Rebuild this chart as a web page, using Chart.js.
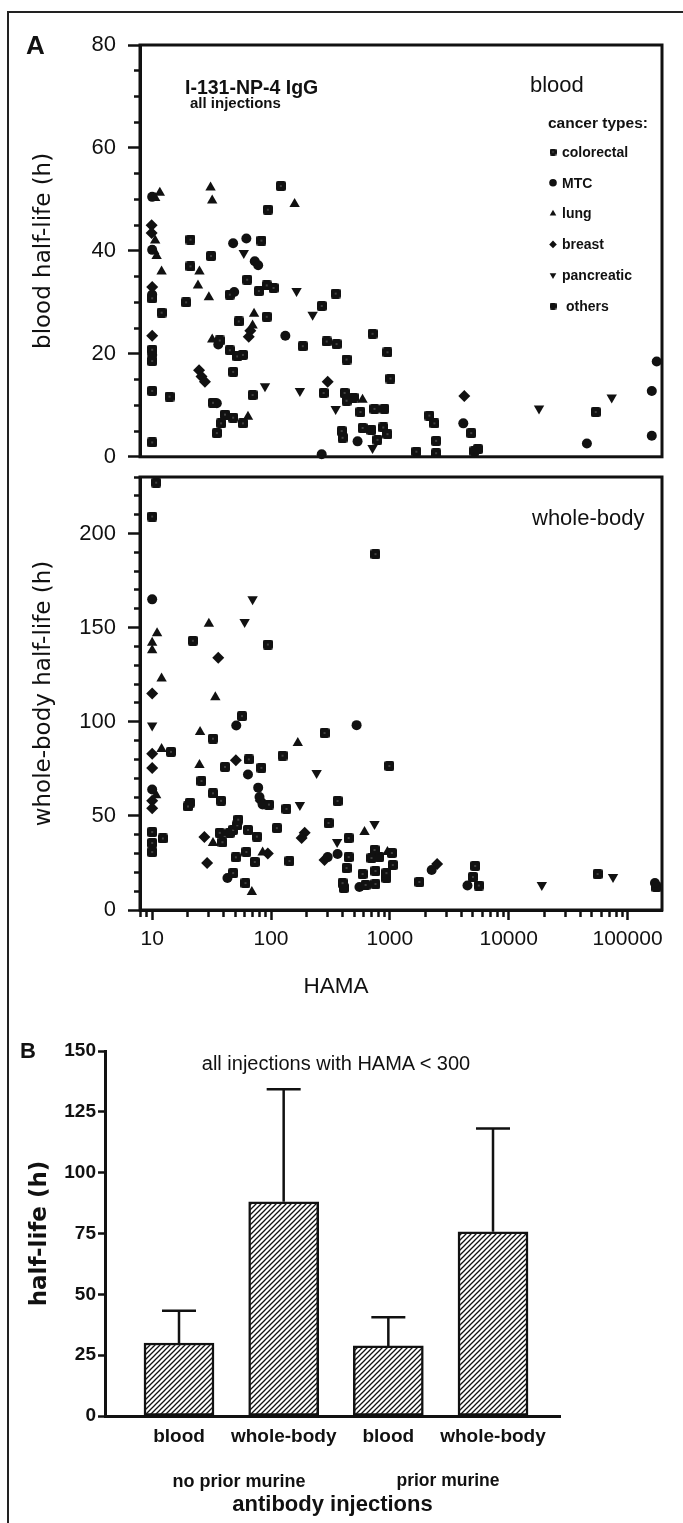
<!DOCTYPE html>
<html lang="en">
<head>
<meta charset="UTF-8">
<title>I-131-NP-4 IgG half-life vs HAMA</title>
<style>
  body { margin: 0; background: #fff; }
  #page { position: relative; width: 683px; height: 1523px; overflow: hidden;
          font-family: "Liberation Sans", Arial, sans-serif; color: #111; }
  .frame { position: absolute; left: 7px; top: 11px; width: 720px; height: 1600px; border: 2px solid #222; }
  canvas { position: absolute; left: 0; }
  .lbl { position: absolute; white-space: nowrap; line-height: 1; }
  .b { font-weight: bold; }
</style>
</head>
<body>
<div id="page">
  <div class="frame"></div>
  <canvas id="cBlood" width="683" height="482" style="top:0"></canvas>
  <canvas id="cWhole" width="683" height="570" style="top:440px"></canvas>
  <canvas id="cBars" width="683" height="523" style="top:1000px"></canvas>

  <div class="lbl b" style="left:26px;top:32px;font-size:26px">A</div>
  <div class="lbl b" style="left:185px;top:78px;font-size:19.5px">I-131-NP-4 IgG</div>
  <div class="lbl b" style="left:190px;top:95px;font-size:15px">all injections</div>
  <div class="lbl" style="left:530px;top:74px;font-size:22px">blood</div>
  <div class="lbl" style="left:532px;top:507px;font-size:22px">whole-body</div>
  <div class="lbl" style="left:236px;width:200px;text-align:center;top:975px;font-size:22.5px">HAMA</div>

  <div class="lbl b" style="left:20px;top:1040px;font-size:22px">B</div>
  <div class="lbl" style="left:186px;width:300px;text-align:center;top:1053px;font-size:20px">all injections with HAMA &lt; 300</div>
  <div class="lbl b" style="left:139px;width:200px;text-align:center;top:1472px;font-size:18px">no prior murine</div>
  <div class="lbl b" style="left:348px;width:200px;text-align:center;top:1472px;font-size:17.5px">prior murine</div>
</div>

<script src="https://cdn.jsdelivr.net/npm/chart.js"></script>
<script>
// ---- data: [HAMA, half-life (h)] ----
const CANCER_TYPES = ['colorectal', 'MTC', 'lung', 'breast', 'pancreatic', 'others'];

const BLOOD_COLORECTAL = [
  [121, 52.6], [94, 48], [10, 30.8], [12, 28], [10, 20.8], [10, 18.6], [10, 12.8], [14, 11.7], [10, 2.8],
  [21, 42.2], [21, 37], [19.3, 30], [31.3, 39], [37, 22.6], [32.5, 10.5], [41, 8.2], [48, 7.6], [38, 6.5],
  [35, 4.6], [83, 42], [63, 34.4], [45, 31.5], [79, 32.2], [92, 33.3], [105, 32.8], [267, 29.3], [350, 31.7],
  [53.5, 26.3], [92, 27.2], [185, 21.5], [294, 22.4], [356, 21.9], [45, 20.7], [52, 19.5], [58, 19.8],
  [48, 16.5], [70, 12], [277, 12.4], [58, 6.5], [715, 23.9], [955, 20.3], [432, 18.9], [1012, 15.2],
  [416, 12.4], [432, 10.9], [566, 8.7], [742, 9.3], [393, 5.0], [400, 3.7], [590, 5.6], [880, 5.7],
  [955, 4.4], [787, 3.3], [1670, 1.0], [2450, 0.7], [2150, 8.0], [2370, 6.5], [2450, 3.1], [4840, 4.6],
  [54000, 8.7]
];
const BLOOD_MTC = [
  [10, 50.5], [10, 40.2], [10, 31.5], [10, 19.8], [36, 21.8], [35, 10.4], [48, 41.5], [62, 42.4], [73, 38],
  [78, 37.2], [49, 32], [132, 23.5], [267, 0.5], [535, 3.0], [4150, 6.5], [45500, 2.6], [160000, 12.8],
  [176000, 18.5], [160000, 4.1]
];
const BLOOD_LUNG = [
  [10.6, 50.3], [11.6, 51.3], [31, 52.3], [32, 49.8], [158, 49.1], [10.6, 42], [10.4, 40], [10.9, 39],
  [12, 36], [25, 36], [24.3, 33.3], [30, 31], [32, 22.8], [72, 27.8], [70, 25.5], [64, 7.8], [589, 11.1]
];
const BLOOD_BREAST = [
  [9.9, 45], [9.9, 43.5], [10, 33], [10, 23.5], [24.8, 16.8], [26, 15.6], [27.8, 14.6], [67, 24.5],
  [65, 23.3], [300, 14.6], [4230, 11.8]
];
const BLOOD_PANCREATIC = [
  [59, 39.6], [164, 32.2], [224, 27.6], [89, 13.7], [175, 12.8], [350, 9.3], [715, 1.7], [18000, 9.4],
  [73600, 11.5]
];
const BLOOD_OTHERS = [[495, 11.5], [900, 9.3], [700, 5.2], [5150, 1.1], [5500, 1.5]];

const WHOLE_COLORECTAL = [
  [10.8, 227], [10, 209], [22, 143], [94, 141], [14.4, 84], [10, 41.4], [10, 35.6], [12.3, 38], [10, 30.8],
  [32.5, 91], [57, 103], [65, 80], [41, 76], [83, 75.5], [125, 82], [282, 94], [26, 68.5], [32.5, 62],
  [38, 58], [20.8, 57], [20, 55], [96, 56], [135, 53.7], [363, 57.9], [39, 36], [37, 41], [45, 41],
  [48, 42.5], [52, 45], [53, 48], [64, 42.5], [76, 39], [112, 43.5], [305, 46.2], [50.6, 28], [62, 30.8],
  [73, 25.5], [143, 26], [48, 19.6], [61, 14.3], [757, 189], [990, 76.5], [450, 38.2], [450, 28.1],
  [432, 22.3], [743, 31.9], [700, 27.6], [1040, 30.3], [1058, 23.9], [757, 20.7], [935, 19.6], [590, 19.1],
  [400, 14.3], [625, 13.3], [757, 13.8], [1770, 14.9], [5220, 23.4], [5000, 17.5], [5600, 13], [56000, 19.1]
];
const WHOLE_MTC = [
  [10, 165], [10, 64], [51, 98], [64, 72], [78, 65], [80, 60], [85, 56], [300, 28.1], [363, 29.7],
  [43, 17], [525, 98.2], [555, 12.2], [2250, 21.2], [4500, 13], [170000, 14.3]
];
const WHOLE_LUNG = [
  [11, 147], [10, 142], [10, 138], [12, 123], [30, 152], [34, 113], [12, 85.5], [10.8, 61], [25.3, 94.5],
  [25, 77], [168, 88.7], [32.5, 35.6], [85, 30.5], [69, 9.6], [612, 41.4], [955, 30.8]
];
const WHOLE_BREAST = [
  [10, 115], [36, 134], [10, 83], [10, 75.4], [10, 58], [10, 54], [50.6, 79.6], [82, 58], [27.5, 38.8],
  [192, 41], [181, 38.2], [29, 25], [94, 30], [282, 26.5], [2500, 24.4]
];
const WHOLE_PANCREATIC = [
  [60, 153], [70, 165], [10, 98], [242, 72.8], [175, 55.8], [360, 36.1], [743, 45.7], [19000, 13.3],
  [75500, 17.5]
];
const WHOLE_OTHERS = [[815, 28.1], [935, 17], [410, 11.7], [175000, 12.2]];

const HAMA_DECADES = [10, 100, 1000, 10000, 100000];

// panel B: mean and SD of half-life, injections with HAMA < 300
const BAR_LABELS = ['blood', 'whole-body', 'blood', 'whole-body'];
const BAR_MEANS = [30, 88, 28.8, 75.7];
const BAR_SD = [13.3, 46.3, 11.8, 42.5];

// ---- styling ----
const INK = '#111';
const SANS = "'Liberation Sans', Arial, sans-serif";
const DEJAVU = "'DejaVu Sans', sans-serif";
Chart.defaults.font.family = SANS;
Chart.defaults.color = INK;

function squareMarker(size, hole) {
  const c = document.createElement('canvas');
  c.width = c.height = size;
  const g = c.getContext('2d');
  g.fillStyle = INK;
  g.beginPath();
  if (g.roundRect) g.roundRect(0, 0, size, size, 2); else g.rect(0, 0, size, size);
  g.fill();
  if (hole) { g.fillStyle = '#666'; g.fillRect(size / 2 - 0.75, size / 2 - 0.75, 1.5, 1.5); }
  return c;
}

const MARKERS = {
  colorectal: { pointStyle: squareMarker(10, true), pointRadius: 5, rotation: 0 },
  MTC:        { pointStyle: 'circle', pointRadius: 5, rotation: 0 },
  lung:       { pointStyle: 'triangle', pointRadius: 6, rotation: 0 },
  breast:     { pointStyle: 'rectRot', pointRadius: 6, rotation: 0 },
  pancreatic: { pointStyle: 'triangle', pointRadius: 6, rotation: 180 },
  others:     { pointStyle: squareMarker(10, false), pointRadius: 5, rotation: 0 }
};

function makeDatasets(groups) {
  return CANCER_TYPES.map((t, i) => ({
    label: t,
    data: groups[i].map(([x, y]) => ({ x: x, y: y })),
    pointStyle: MARKERS[t].pointStyle,
    pointRadius: MARKERS[t].pointRadius,
    rotation: MARKERS[t].rotation,
    backgroundColor: INK,
    borderColor: INK,
    borderWidth: 0,
    clip: false
  }));
}

// ticks of the log axis: 2..9 x each decade, within range
const HAMA_MIN = 7.9, HAMA_MAX = 195000;
const HAMA_TICKS = [];
[1].concat(HAMA_DECADES).forEach(d => {
  for (let m = 1; m <= 9; m++) {
    const v = d * m;
    if (v >= HAMA_MIN && v <= HAMA_MAX && HAMA_TICKS.indexOf(v) < 0) HAMA_TICKS.push(v);
  }
});

function yAxisA(max, step, every, title) {
  return {
    type: 'linear', min: 0, max: max,
    afterFit: s => { s.width = 130; },
    border: { display: true, color: INK, width: 3 },
    grid: {
      drawOnChartArea: false, drawTicks: true, tickLength: 12, tickColor: INK, tickWidth: 2.5,
      tickBorderDash: c => (c.tick && c.tick.value % every === 0) ? [] : [0, 6, 20]
    },
    ticks: {
      stepSize: step, autoSkip: false, padding: 12, color: INK, font: { size: 22 },
      callback: v => (v % every === 0 ? v : '')
    },
    title: { display: true, text: title, color: INK, font: { family: DEJAVU, size: 23 },
             padding: { top: 20, bottom: 0 } }
  };
}

function xAxisA(show) {
  return {
    type: 'logarithmic', min: HAMA_MIN, max: HAMA_MAX, display: show,
    afterBuildTicks: s => { s.ticks = HAMA_TICKS.map(v => ({ value: v, major: HAMA_DECADES.includes(v) })); },
    afterFit: s => { s.height = show ? 95 : 0; },
    border: { display: true, color: INK, width: 3 },
    grid: {
      drawOnChartArea: false, drawTicks: true, tickLength: 10, tickColor: INK, tickWidth: 2.5,
      tickBorderDash: c => (c.tick && HAMA_DECADES.includes(c.tick.value)) ? [] : [5, 30]
    },
    ticks: {
      autoSkip: false, maxRotation: 0, padding: 7, color: INK, font: { size: 21 },
      callback: v => (HAMA_DECADES.includes(v) ? String(v) : '')
    }
  };
}

const framePlugin = {
  id: 'frame',
  afterDraw(chart) {
    const a = chart.chartArea, ctx = chart.ctx;
    ctx.save();
    ctx.strokeStyle = INK;
    ctx.lineWidth = 3;
    ctx.strokeRect(a.left, a.top, a.right - a.left, a.bottom - a.top);
    ctx.restore();
  }
};

const typeLegend = {
  id: 'typeLegend',
  afterDatasetsDraw(chart) {
    const ctx = chart.ctx, a = chart.chartArea;
    const x0 = a.right - 112, y0 = a.top + 79;
    ctx.save();
    ctx.fillStyle = INK;
    ctx.textBaseline = 'middle';
    ctx.font = 'bold 15.5px ' + SANS;
    ctx.fillText('cancer types:', x0 - 2, y0);
    ctx.font = 'bold 14px ' + SANS;
    CANCER_TYPES.forEach((t, i) => {
      const y = y0 + 28 + i * 30.8;
      const m = MARKERS[t];
      if (Chart.helpers && Chart.helpers.drawPoint) {
        const style = typeof m.pointStyle === 'string' ? m.pointStyle : squareMarker(7, t === 'colorectal');
        Chart.helpers.drawPoint(ctx, { pointStyle: style, radius: 3.8, rotation: m.rotation, borderWidth: 0 }, x0 + 3, y);
      }
      ctx.fillText(t, x0 + 12 + (t === 'others' ? 4 : 0), y + 1);
    });
    ctx.restore();
  }
};

const baseOpts = {
  responsive: false,
  animation: false,
  events: [],
  plugins: { legend: { display: false }, tooltip: { enabled: false } }
};

new Chart(document.getElementById('cBlood'), {
  type: 'scatter',
  data: { datasets: makeDatasets([BLOOD_COLORECTAL, BLOOD_MTC, BLOOD_LUNG, BLOOD_BREAST, BLOOD_PANCREATIC, BLOOD_OTHERS]) },
  options: Object.assign({}, baseOpts, {
    layout: { padding: { left: 10, top: 45, right: 21, bottom: 5 } },
    scales: { x: xAxisA(false), y: yAxisA(80, 5, 20, 'blood half-life (h)') }
  }),
  plugins: [framePlugin, typeLegend]
});

new Chart(document.getElementById('cWhole'), {
  type: 'scatter',
  data: { datasets: makeDatasets([WHOLE_COLORECTAL, WHOLE_MTC, WHOLE_LUNG, WHOLE_BREAST, WHOLE_PANCREATIC, WHOLE_OTHERS]) },
  options: Object.assign({}, baseOpts, {
    layout: { padding: { left: 10, top: 37, right: 21, bottom: 5 } },
    scales: { x: xAxisA(true), y: yAxisA(230, 10, 50, 'whole-body half-life (h)') }
  }),
  plugins: [framePlugin]
});

// ---- panel B ----
function hatchPattern() {
  const t = document.createElement('canvas');
  t.width = t.height = 5;
  const g = t.getContext('2d');
  g.fillStyle = '#fff';
  g.fillRect(0, 0, 5, 5);
  g.strokeStyle = INK;
  g.lineWidth = 1.3;
  g.beginPath();
  g.moveTo(-1, 1); g.lineTo(1, -1);
  g.moveTo(0, 5); g.lineTo(5, 0);
  g.moveTo(4, 6); g.lineTo(6, 4);
  g.stroke();
  return g.createPattern(t, 'repeat');
}

const errorBars = {
  id: 'errorBars',
  afterDatasetsDraw(chart) {
    const xs = chart.scales.x, ys = chart.scales.y, ctx = chart.ctx;
    ctx.save();
    ctx.strokeStyle = INK;
    ctx.lineWidth = 2.5;
    BAR_MEANS.forEach((m, i) => {
      const x = xs.getPixelForValue(i + 1);
      const y0 = ys.getPixelForValue(m), y1 = ys.getPixelForValue(m + BAR_SD[i]);
      ctx.beginPath();
      ctx.moveTo(x, y0); ctx.lineTo(x, y1);
      ctx.moveTo(x - 17, y1); ctx.lineTo(x + 17, y1);
      ctx.stroke();
    });
    ctx.restore();
  }
};

new Chart(document.getElementById('cBars'), {
  type: 'bar',
  data: {
    datasets: [{
      data: BAR_MEANS.map((m, i) => ({ x: i + 1, y: m })),
      backgroundColor: hatchPattern(),
      borderColor: INK,
      borderWidth: 2.5,
      borderSkipped: false,
      barThickness: 70
    }]
  },
  options: Object.assign({}, baseOpts, {
    layout: { padding: { left: 10, top: 51, right: 123, bottom: 0 } },
    scales: {
      x: {
        type: 'linear', min: 0.293, max: 4.64, offset: false,
        afterBuildTicks: s => { s.ticks = BAR_LABELS.map((l, i) => ({ value: i + 1 })); },
        afterFit: s => { s.height = 107; },
        border: { display: true, color: INK, width: 3 },
        grid: { display: true, offset: false, drawOnChartArea: false, drawTicks: false },
        ticks: { autoSkip: false, maxRotation: 0, padding: 9, color: INK,
                 font: { size: 19, weight: 'bold' }, callback: v => BAR_LABELS[v - 1] },
        title: { display: true, text: 'antibody injections', color: INK,
                 font: { size: 22, weight: 'bold' }, padding: { top: 0, bottom: 5 } }
      },
      y: {
        type: 'linear', min: 0, max: 150,
        afterFit: s => { s.width = 95; },
        border: { display: true, color: INK, width: 3 },
        grid: { drawOnChartArea: false, drawTicks: true, tickLength: 7, tickColor: INK, tickWidth: 2.5 },
        ticks: { stepSize: 25, padding: 2, color: INK, font: { size: 19, weight: 'bold' } },
        title: { display: true, text: 'half-life (h)', color: INK,
                 font: { family: DEJAVU, size: 23, weight: 'bold' }, padding: { top: 16, bottom: 0 } }
      }
    }
  }),
  plugins: [errorBars]
});
</script>
</body>
</html>
